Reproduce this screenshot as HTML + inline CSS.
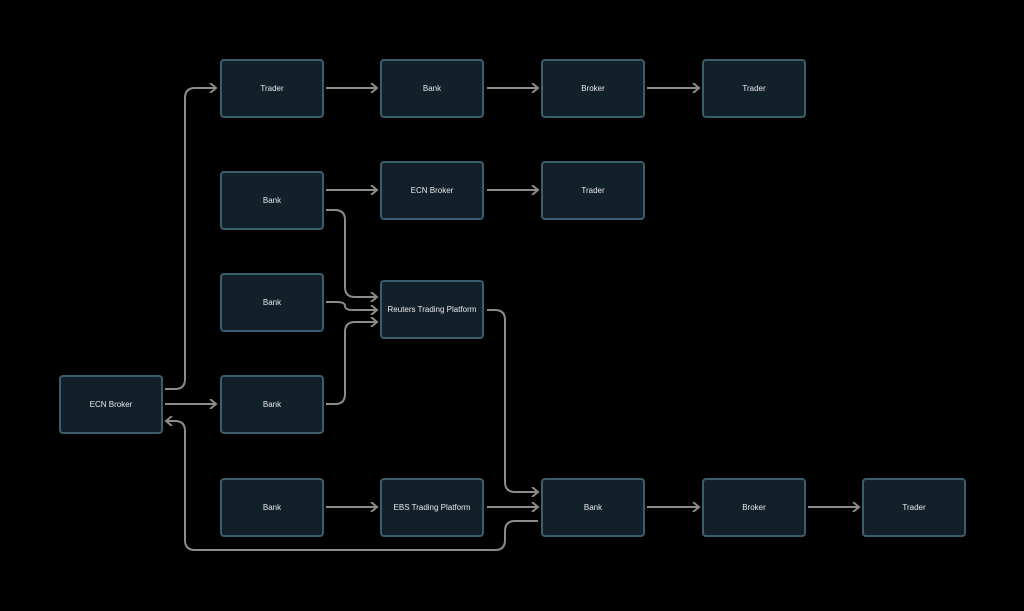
<!DOCTYPE html>
<html><head><style>
body{margin:0;background:#000;width:1024px;height:611px;overflow:hidden;font-family:"Liberation Sans",sans-serif}
.b{position:absolute;width:100px;height:55px;background:#12202a;border:2px solid #3b5d6c;border-radius:4px;color:#e8e8e8;font-size:8px;display:flex;align-items:center;justify-content:center}
svg{position:absolute;left:0;top:0}
</style></head><body>
<svg width="1024" height="611" fill="none" stroke="#8c8c8c" stroke-width="2">
<defs><marker id="a" markerWidth="10" markerHeight="10" refX="8" refY="5" orient="auto" markerUnits="userSpaceOnUse"><path d="M2,0 L8,5 L2,10" stroke="#8c8c8c" stroke-width="2" fill="none"/></marker></defs>
<path d="M165,389 H175 Q185,389 185,379 V98 Q185,88 195,88 H216" marker-end="url(#a)"/>
<path d="M326,88 H377" marker-end="url(#a)"/>
<path d="M487,88 H538" marker-end="url(#a)"/>
<path d="M647,88 H699" marker-end="url(#a)"/>
<path d="M326,190 H377" marker-end="url(#a)"/>
<path d="M487,190 H538" marker-end="url(#a)"/>
<path d="M326,210 H335 Q345,210 345,220 V287 Q345,297 355,297 H377" marker-end="url(#a)"/>
<path d="M326,302 H337 Q345,302 345,306 Q345,310 353,310 H377" marker-end="url(#a)"/>
<path d="M326,404 H335 Q345,404 345,394 V332 Q345,322 355,322 H377" marker-end="url(#a)"/>
<path d="M165,404 H216" marker-end="url(#a)"/>
<path d="M487,310 H495 Q505,310 505,320 V482 Q505,492 515,492 H538" marker-end="url(#a)"/>
<path d="M326,507 H377" marker-end="url(#a)"/>
<path d="M487,507 H538" marker-end="url(#a)"/>
<path d="M647,507 H699" marker-end="url(#a)"/>
<path d="M808,507 H859" marker-end="url(#a)"/>
<path d="M538,521 H515 Q505,521 505,531 V540 Q505,550 495,550 H195 Q185,550 185,540 V431 Q185,421 175,421 H166" marker-end="url(#a)"/>
</svg>
<div class="b" style="left:220px;top:59px">Trader</div>
<div class="b" style="left:380px;top:59px">Bank</div>
<div class="b" style="left:541px;top:59px">Broker</div>
<div class="b" style="left:702px;top:59px">Trader</div>
<div class="b" style="left:220px;top:171px">Bank</div>
<div class="b" style="left:380px;top:161px">ECN Broker</div>
<div class="b" style="left:541px;top:161px">Trader</div>
<div class="b" style="left:220px;top:273px">Bank</div>
<div class="b" style="left:380px;top:280px">Reuters Trading Platform</div>
<div class="b" style="left:59px;top:375px">ECN Broker</div>
<div class="b" style="left:220px;top:375px">Bank</div>
<div class="b" style="left:220px;top:478px">Bank</div>
<div class="b" style="left:380px;top:478px">EBS Trading Platform</div>
<div class="b" style="left:541px;top:478px">Bank</div>
<div class="b" style="left:702px;top:478px">Broker</div>
<div class="b" style="left:862px;top:478px">Trader</div>
</body></html>
